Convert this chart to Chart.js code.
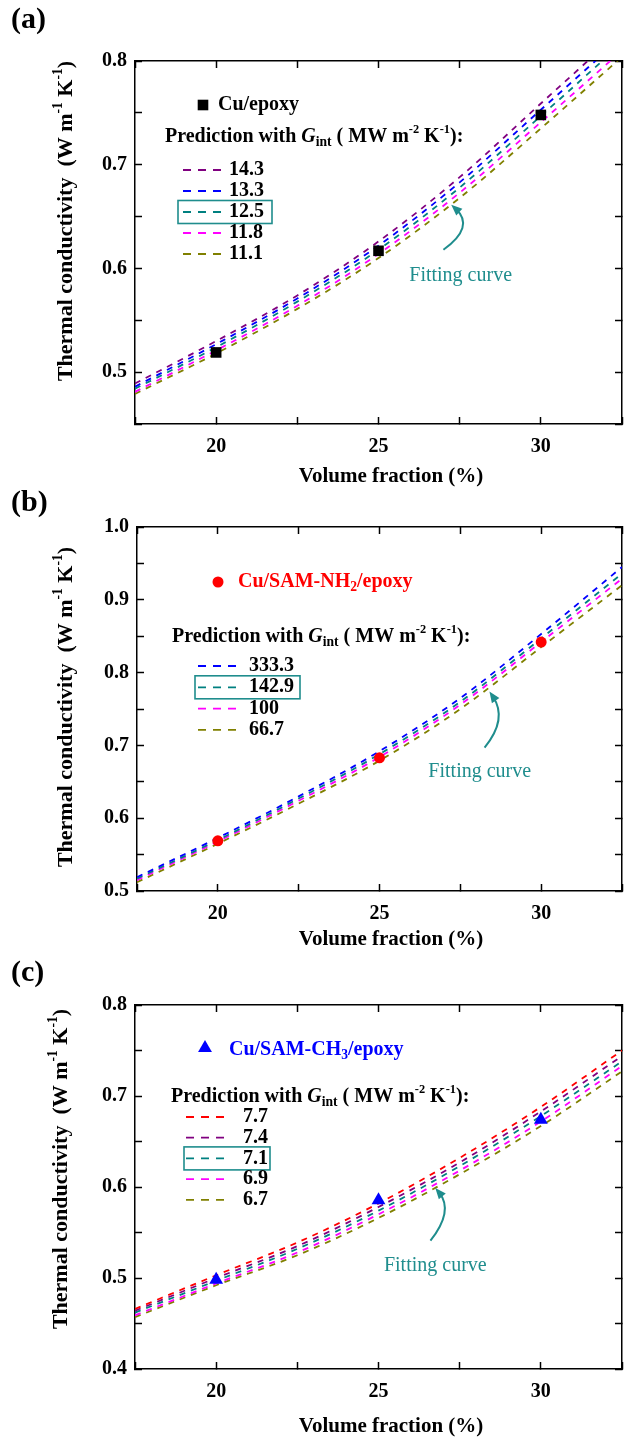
<!DOCTYPE html>
<html>
<head>
<meta charset="utf-8">
<script src="https://cdn.jsdelivr.net/npm/chart.js@4.4.1/dist/chart.umd.min.js"></script>
<style>
  body { margin: 0; background: #fff; width: 624px; height: 1439px; position: relative; overflow: hidden; }
  canvas { position: absolute; left: 0; }
</style>
</head>
<body>
<canvas id="chartA"></canvas>
<canvas id="chartB"></canvas>
<canvas id="chartC"></canvas>
<script>
// curves are read at these volume fractions (%)
const xs = [17.5, 20, 22.5, 25, 27.5, 30, 32.5];
const measuredX = [20, 25, 30];

// (a) Cu/epoxy
const cuEpoxy = [0.519, 0.617, 0.748];
const gLabelsA = ['14.3', '13.3', '12.5', '11.8', '11.1'];
const a143 = [0.489, 0.530, 0.574, 0.626, 0.688, 0.759, 0.830];
const a133 = [0.486, 0.527, 0.571, 0.622, 0.683, 0.753, 0.823];
const a125 = [0.484, 0.524, 0.568, 0.618, 0.678, 0.747, 0.817];
const a118 = [0.481, 0.521, 0.564, 0.614, 0.673, 0.741, 0.810];
const a111 = [0.479, 0.518, 0.561, 0.610, 0.668, 0.735, 0.804];

// (b) Cu/SAM-NH2/epoxy
const cuNH2 = [0.569, 0.683, 0.842];
const gLabelsB = ['333.3', '142.9', '100', '66.7'];
const b3333 = [0.519, 0.573, 0.630, 0.692, 0.765, 0.853, 0.945];
const b1429 = [0.517, 0.570, 0.627, 0.688, 0.760, 0.847, 0.936];
const b100 = [0.515, 0.568, 0.624, 0.684, 0.756, 0.842, 0.929];
const b667 = [0.512, 0.565, 0.620, 0.679, 0.750, 0.835, 0.920];

// (c) Cu/SAM-CH3/epoxy
const cuCH3 = [0.498, 0.5855, 0.674];
const gLabelsC = ['7.7', '7.4', '7.1', '6.9', '6.7'];
const c77 = [0.466, 0.503, 0.539, 0.582, 0.632, 0.688, 0.750];
const c74 = [0.464, 0.500, 0.535, 0.578, 0.627, 0.683, 0.744];
const c71 = [0.462, 0.497, 0.532, 0.574, 0.623, 0.678, 0.738];
const c69 = [0.459, 0.494, 0.528, 0.570, 0.618, 0.672, 0.733];
const c67 = [0.457, 0.492, 0.525, 0.566, 0.614, 0.667, 0.727];

const SERIF = '"Liberation Serif", "Times New Roman", serif';
const TEAL = '#1f8d8d';
const PURPLE = '#800080', BLUE = '#0000ff', CYAN = '#008080', MAGENTA = '#ff00ff', OLIVE = '#808000', RED = '#ff0000';

const sup = t => ({ t, s: 0.62, dy: -0.36 });
const sub = t => ({ t, s: 0.68, dy: 0.28 });
const predictionRuns = [
  { t: 'Prediction with ' }, { t: 'G', i: true }, sub('int'),
  { t: ' ( MW m' }, sup('-2'), { t: ' K' }, sup('-1'), { t: '):' }
];
const yTitleRuns = [{ t: 'Thermal conductivity  (W m' }, sup('-1'), { t: ' K' }, sup('-1'), { t: ')' }];

function font(r, size) {
  const sz = Math.round(size * (r.s || 1) * 10) / 10;
  return (r.i ? 'italic ' : '') + (r.n ? 'normal ' : 'bold ') + sz + 'px ' + SERIF;
}

function drawRuns(ctx, runs, x, y, size, align) {
  let w = 0;
  runs.forEach((r) => { ctx.font = font(r, size); w += ctx.measureText(r.t).width; });
  let cx = align === 'center' ? x - w / 2 : x;
  runs.forEach((r) => {
    ctx.font = font(r, size);
    ctx.fillText(r.t, cx, y + (r.dy || 0) * size);
    cx += ctx.measureText(r.t).width;
  });
}

function drawArrow(ctx, head, mid, tail) {
  const cx = 2 * mid.x - (head.x + tail.x) / 2;
  const cy = 2 * mid.y - (head.y + tail.y) / 2;
  const ang = Math.atan2(head.y - cy, head.x - cx);
  const L = 11, W = 4.5;
  ctx.beginPath();
  ctx.moveTo(tail.x, tail.y);
  ctx.quadraticCurveTo(cx, cy, head.x - 6 * Math.cos(ang), head.y - 6 * Math.sin(ang));
  ctx.stroke();
  ctx.beginPath();
  ctx.moveTo(head.x, head.y);
  ctx.lineTo(head.x - L * Math.cos(ang) + W * Math.sin(ang), head.y - L * Math.sin(ang) - W * Math.cos(ang));
  ctx.lineTo(head.x - L * Math.cos(ang) - W * Math.sin(ang), head.y - L * Math.sin(ang) + W * Math.cos(ang));
  ctx.closePath();
  ctx.fill();
}

function curve(label, ys, color) {
  return {
    label,
    data: xs.map((x, i) => ({ x, y: ys[i] })),
    borderColor: color,
    borderWidth: 1.8,
    borderDash: [6, 6],
    pointRadius: 0,
    cubicInterpolationMode: 'monotone',
    fill: false,
  };
}

function markers(label, ys, style, radius, color) {
  return {
    label,
    data: measuredX.map((x, i) => ({ x, y: ys[i] })),
    showLine: false,
    pointStyle: style,
    pointRadius: radius,
    pointBackgroundColor: color,
    pointBorderColor: color,
    pointBorderWidth: 0,
  };
}

// page-pixel layout of the three panels
const panels = [
  {
    id: 'chartA', top: 0, height: 492, area: { left: 135, right: 622, top: 61, bottom: 424 },
    yMin: 0.45, yMax: 0.8, tag: '(a)', tagY: 20,
    yTitle: { x: 66, y: 221 }, xTitle: { x: 391, y: 477 },
    marker: { style: 'rect', r: 7.5, color: '#000', x: 203, y: 105 },
    name: [{ t: 'Cu/epoxy' }], nameColor: '#000', nameX: 218, nameY: 105,
    pred: { x: 165, y: 137 },
    rows: { y0: 170, step: 21, dash0: 183, dash1: 224, textX: 229, boxIndex: 2, box: [178, 272] },
    fit: { head: [27.24, 0.6615], mid: [27.55, 0.640], tail: [27.0, 0.618], text: [27.53, 0.593] },
    points: markers('Cu/epoxy', cuEpoxy, 'rect', 7.5, '#000'),
    curves: [curve(gLabelsA[0], a143, PURPLE), curve(gLabelsA[1], a133, BLUE), curve(gLabelsA[2], a125, CYAN),
             curve(gLabelsA[3], a118, MAGENTA), curve(gLabelsA[4], a111, OLIVE)],
  },
  {
    id: 'chartB', top: 482, height: 478, area: { left: 137, right: 622, top: 527, bottom: 891 },
    yMin: 0.5, yMax: 1.0, tag: '(b)', tagY: 503,
    yTitle: { x: 66, y: 707 }, xTitle: { x: 391, y: 940 },
    marker: { style: 'circle', r: 5.5, color: RED, x: 218, y: 582 },
    name: [{ t: 'Cu/SAM-NH' }, sub('2'), { t: '/epoxy' }], nameColor: RED, nameX: 238, nameY: 582,
    pred: { x: 172, y: 637 },
    rows: { y0: 666, step: 21.3, dash0: 198, dash1: 239, textX: 249, boxIndex: 1, box: [195, 300] },
    fit: { head: [28.4, 0.774], mid: [28.65, 0.736], tail: [28.25, 0.697], text: [28.1, 0.664] },
    points: markers('Cu/SAM-NH2/epoxy', cuNH2, 'circle', 5.5, RED),
    curves: [curve(gLabelsB[0], b3333, BLUE), curve(gLabelsB[1], b1429, CYAN),
             curve(gLabelsB[2], b100, MAGENTA), curve(gLabelsB[3], b667, OLIVE)],
  },
  {
    id: 'chartC', top: 950, height: 489, area: { left: 135, right: 622, top: 1005, bottom: 1369 },
    yMin: 0.4, yMax: 0.8, tag: '(c)', tagY: 973,
    yTitle: { x: 61, y: 1169 }, xTitle: { x: 391, y: 1427 },
    marker: { style: 'triangle', r: 8, color: BLUE, x: 205, y: 1048 },
    name: [{ t: 'Cu/SAM-CH' }, sub('3'), { t: '/epoxy' }], nameColor: BLUE, nameX: 229, nameY: 1050,
    pred: { x: 171, y: 1097 },
    rows: { y0: 1117, step: 20.7, dash0: 186, dash1: 227, textX: 243, boxIndex: 2, box: [184, 270] },
    fit: { head: [26.75, 0.599], mid: [27.0, 0.572], tail: [26.6, 0.541], text: [26.75, 0.514] },
    points: markers('Cu/SAM-CH3/epoxy', cuCH3, 'triangle', 8, BLUE),
    curves: [curve(gLabelsC[0], c77, RED), curve(gLabelsC[1], c74, PURPLE), curve(gLabelsC[2], c71, CYAN),
             curve(gLabelsC[3], c69, MAGENTA), curve(gLabelsC[4], c67, OLIVE)],
  },
];

function decor(p) {
  return {
    id: 'decor',
    afterDraw(chart) {
      const ctx = chart.ctx;
      const oy = p.top;
      const X = (v) => chart.scales.x.getPixelForValue(v);
      const Y = (v) => chart.scales.y.getPixelForValue(v);
      ctx.save();
      ctx.textBaseline = 'middle';
      ctx.fillStyle = '#000';

      drawRuns(ctx, [{ t: p.tag }], 11, p.tagY - oy, 30, 'left');
      drawRuns(ctx, [{ t: 'Volume fraction (%)' }], p.xTitle.x, p.xTitle.y - oy, 21, 'center');
      ctx.save();
      ctx.translate(p.yTitle.x, p.yTitle.y - oy);
      ctx.rotate(-Math.PI / 2);
      drawRuns(ctx, yTitleRuns, 0, 0, 22, 'center');
      ctx.restore();

      // legend: measured series
      ctx.fillStyle = p.marker.color;
      Chart.helpers.drawPoint(ctx, { pointStyle: p.marker.style, radius: p.marker.r, rotation: 0, borderWidth: 0 },
        p.marker.x, p.marker.y - oy);
      ctx.fillStyle = p.nameColor;
      drawRuns(ctx, p.name, p.nameX, p.nameY - oy, 20, 'left');
      ctx.fillStyle = '#000';
      drawRuns(ctx, predictionRuns, p.pred.x, p.pred.y - oy, 20, 'left');

      // legend: predicted curves
      const r = p.rows;
      chart.data.datasets.slice(1).forEach((ds, i) => {
        const y = r.y0 + i * r.step - oy;
        ctx.save();
        ctx.strokeStyle = ds.borderColor;
        ctx.lineWidth = 1.8;
        ctx.setLineDash([8, 7]);
        ctx.beginPath();
        ctx.moveTo(r.dash0, y);
        ctx.lineTo(r.dash1, y);
        ctx.stroke();
        ctx.restore();
        drawRuns(ctx, [{ t: ds.label }], r.textX, y, 20, 'left');
        if (i === r.boxIndex) {
          ctx.save();
          ctx.strokeStyle = TEAL;
          ctx.lineWidth = 1.6;
          ctx.strokeRect(r.box[0], y - 11.5, r.box[1] - r.box[0], 23);
          ctx.restore();
        }
      });

      // "Fitting curve" note
      const f = p.fit;
      ctx.strokeStyle = TEAL;
      ctx.fillStyle = TEAL;
      ctx.lineWidth = 2;
      const pt = (a) => ({ x: X(a[0]), y: Y(a[1]) });
      drawArrow(ctx, pt(f.head), pt(f.mid), pt(f.tail));
      drawRuns(ctx, [{ t: 'Fitting curve', n: true }], X(f.text[0]), Y(f.text[1]), 20, 'center');
      ctx.restore();
    },
  };
}

const tickFont = { family: SERIF, size: 20, weight: 'bold' };
const grid = { drawOnChartArea: false, tickLength: -7, tickColor: '#000', tickWidth: 1.5 };
const border = { color: '#000', width: 1.5 };
const xLabel = (v) => (Math.abs(v / 5 - Math.round(v / 5)) < 1e-6 ? String(v) : '');
const yLabel = (v) => (Math.abs(v * 10 - Math.round(v * 10)) < 1e-6 ? v.toFixed(1) : '');
const noPad = (s) => { s.paddingLeft = 0; s.paddingRight = 0; s.paddingTop = 0; s.paddingBottom = 0; };

panels.forEach((p) => {
  const canvas = document.getElementById(p.id);
  canvas.width = 624;
  canvas.height = p.height;
  canvas.style.top = p.top + 'px';
  const a = p.area;
  new Chart(canvas, {
    type: 'line',
    data: { datasets: [p.points, ...p.curves] },
    options: {
      responsive: false,
      animation: false,
      layout: { padding: 0, autoPadding: false },
      plugins: { legend: { display: false }, tooltip: { enabled: false } },
      scales: {
        x: {
          type: 'linear', position: 'bottom', min: 17.5, max: 32.5,
          ticks: { stepSize: 2.5, autoSkip: false, maxRotation: 0, font: tickFont, color: '#000', padding: 18, callback: xLabel },
          grid, border,
          afterFit: (s) => { s.height = p.top + p.height - a.bottom; noPad(s); },
        },
        x2: {
          type: 'linear', axis: 'x', position: 'top', min: 17.5, max: 32.5,
          ticks: { stepSize: 2.5, display: false },
          grid, border,
          afterFit: (s) => { s.height = a.top - p.top; noPad(s); },
        },
        y: {
          type: 'linear', position: 'left', min: p.yMin, max: p.yMax,
          ticks: { stepSize: 0.05, autoSkip: false, font: tickFont, color: '#000', padding: 15, callback: yLabel },
          grid, border,
          afterFit: (s) => { s.width = a.left; noPad(s); },
        },
        y2: {
          type: 'linear', axis: 'y', position: 'right', min: p.yMin, max: p.yMax,
          ticks: { stepSize: 0.05, display: false },
          grid, border,
          afterFit: (s) => { s.width = 624 - a.right; noPad(s); },
        },
      },
    },
    plugins: [decor(p)],
  });
});
</script>
</body>
</html>
